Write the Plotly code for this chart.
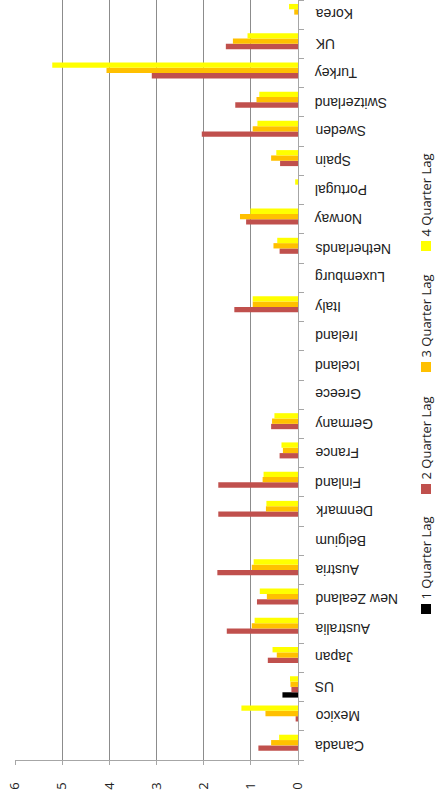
import plotly.graph_objects as go

countries = ["Canada", "Mexico", "US", "Japan", "Australia", "New Zealand", "Austria",
             "Belgium", "Denmark", "Finland", "France", "Germany", "Greece", "Iceland",
             "Ireland", "Italy", "Luxemburg", "Netherlands", "Norway", "Portugal", "Spain",
             "Sweden", "Switzerland", "Turkey", "UK", "Korea"]

lag1 = [None, None, 0.33, None, None, None, None,
        None, None, None, None, None, None, None,
        None, None, None, None, None, None, None,
        None, None, None, None, None]
lag2 = [0.84, 0.05, 0.14, 0.64, 1.51, 0.87, 1.71,
        None, 1.69, 1.69, 0.39, 0.57, None, None,
        None, 1.35, None, 0.39, 1.10, None, 0.38,
        2.04, 1.33, 3.10, 1.53, None]
lag3 = [0.57, 0.69, 0.16, 0.45, 0.98, 0.66, 0.98,
        None, 0.68, 0.75, 0.32, 0.55, None, None,
        None, 0.96, None, 0.52, 1.23, None, 0.57,
        0.96, 0.88, 4.06, 1.38, 0.08]
lag4 = [0.40, 1.20, 0.17, 0.54, 0.92, 0.81, 0.94,
        None, 0.67, 0.73, 0.35, 0.50, None, None,
        None, 0.96, None, 0.44, 1.01, 0.06, 0.46,
        0.86, 0.82, 5.21, 1.07, 0.19]

series_names = ["1 Quarter Lag", "2 Quarter Lag", "3 Quarter Lag", "4 Quarter Lag"]
series_colors = ["#000000", "#C0504D", "#FFC000", "#FFFF00"]
series_values = [lag1, lag2, lag3, lag4]
value_ticks = [0, 1, 2, 3, 4, 5, 6]

fig = go.Figure()
for name, color, vals in zip(series_names, series_colors, series_values):
    fig.add_trace(go.Bar(
        y=countries, x=vals, name=name, orientation="h",
        marker=dict(color=color, line=dict(width=0)),
        showlegend=False,
    ))

# category labels, upside down (the reference is a rotated column chart)
for c in countries:
    fig.add_annotation(
        xref="paper", yref="y", x=1, y=c, xshift=15,
        text=c, showarrow=False, textangle=180,
        xanchor="left", yanchor="middle",
        font=dict(family="Liberation Sans", size=14, color="#222222"),
    )

# rotated legend: squares (shapes) + vertical text (annotations), paper coords
plot_h = 760.0
plot_w = 283.0
legend_sq_px = [609, 489, 367, 246]   # square centres (px from top)
for name, color, sq in zip(series_names, series_colors, legend_sq_px):
    y0 = (plot_h - (sq + 5)) / plot_h
    y1 = (plot_h - (sq - 5)) / plot_h
    fig.add_shape(
        type="rect", xref="paper", yref="paper",
        x0=(421 - 15) / plot_w, x1=(431 - 15) / plot_w, y0=y0, y1=y1,
        fillcolor=color, line=dict(width=0),
    )
    text_center = sq - 9 - 41.5
    fig.add_annotation(
        xref="paper", yref="paper", x=(425 - 15) / plot_w,
        y=(plot_h - text_center) / plot_h,
        text=name, showarrow=False, textangle=-90,
        font=dict(family="Open Sans", size=13, color="#222222"),
        xanchor="center", yanchor="middle",
    )

fig.update_layout(
    width=435, height=792,
    margin=dict(l=15, r=137, t=0, b=32),
    plot_bgcolor="white", paper_bgcolor="white",
    barmode="group", bargap=0.27, bargroupgap=0,
    xaxis=dict(
        range=[6, 0], tickvals=value_ticks, ticktext=[str(v) for v in value_ticks],
        tickangle=-90, showgrid=True, gridcolor="#8C8C8C", gridwidth=1,
        showline=True, linecolor="#A6A6A6", linewidth=1,
        ticks="outside", ticklen=4, tickcolor="#A6A6A6",
        ticklabelstandoff=12,
        tickfont=dict(family="Open Sans", size=13, color="#222222"),
        zeroline=False, fixedrange=True,
    ),
    yaxis=dict(
        side="right", categoryorder="array", categoryarray=countries,
        showticklabels=False,
        showline=True, linecolor="#A6A6A6", linewidth=1,
        ticks="outside", ticklen=5, tickcolor="#A6A6A6",
        tickson="boundaries",
        showgrid=False, zeroline=False, fixedrange=True,
    ),
)

fig.write_html("out.html", config={"displayModeBar": False},
               post_script="document.body.style.margin='0px';")
